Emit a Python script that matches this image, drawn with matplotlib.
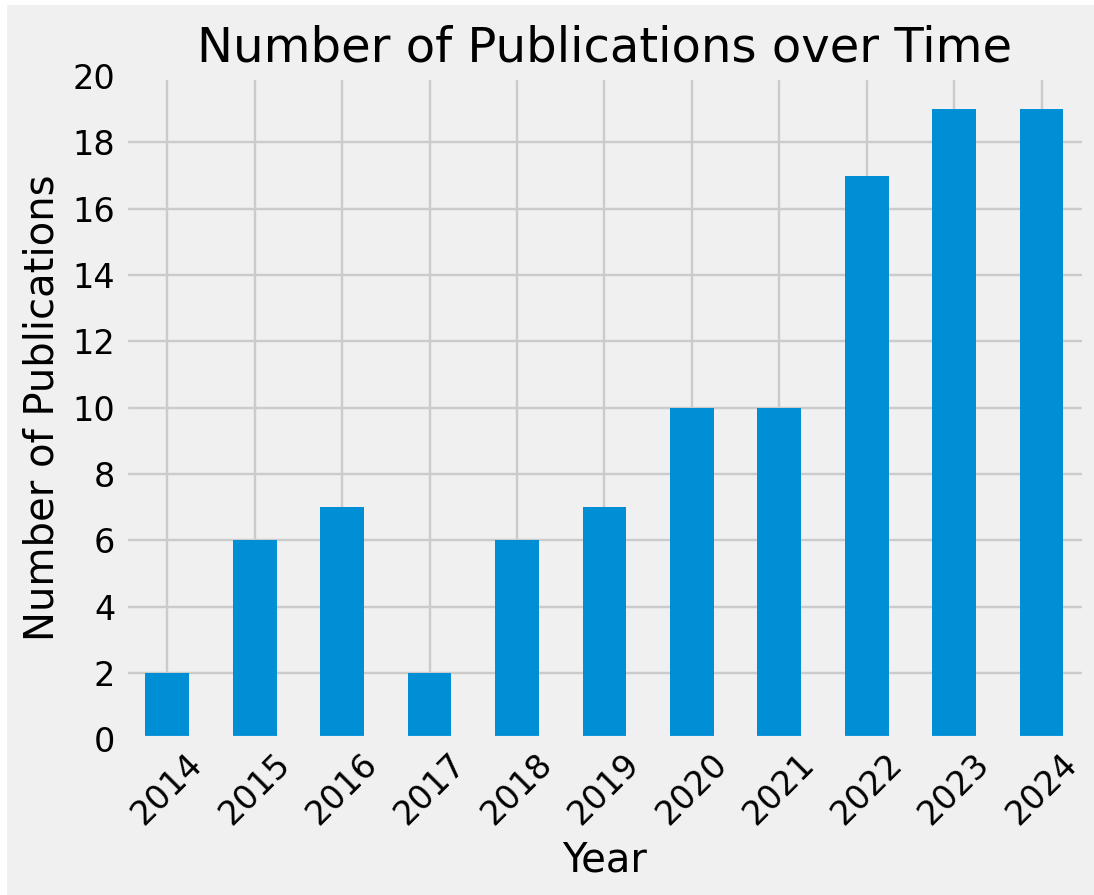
import matplotlib
matplotlib.use("Agg")
import matplotlib.pyplot as plt
from matplotlib.patches import Rectangle
import pandas as pd

# data
years = [2014, 2015, 2016, 2017, 2018, 2019, 2020, 2021, 2022, 2023, 2024]
publications = [2, 6, 7, 2, 6, 7, 10, 10, 17, 19, 19]

plt.style.use("fivethirtyeight")

counts = pd.Series(publications, index=years)

DPI = 172
fig = plt.figure(figsize=(1094 / DPI, 895 / DPI), dpi=DPI)
ax = fig.add_axes([0.113, 0.174, 0.879, 0.741])
counts.plot(kind="bar", ax=ax, rot=45, color="#008fd5")

ax.set_ylim(0, 20)
ax.set_yticks(range(0, 21, 2))
ax.set_title("Number of Publications over Time")
ax.set_xlabel("Year")
ax.set_ylabel("Number of Publications")

# thin white strip on the left and top, as in the screenshot
fig.patches.append(Rectangle((0, 0), 7 / 1094, 1, transform=fig.transFigure,
                             facecolor="white", edgecolor="none", zorder=-1))
fig.patches.append(Rectangle((0, 1 - 5 / 895), 1, 5 / 895, transform=fig.transFigure,
                             facecolor="white", edgecolor="none", zorder=-1))

fig.savefig("out.png", dpi=DPI)
